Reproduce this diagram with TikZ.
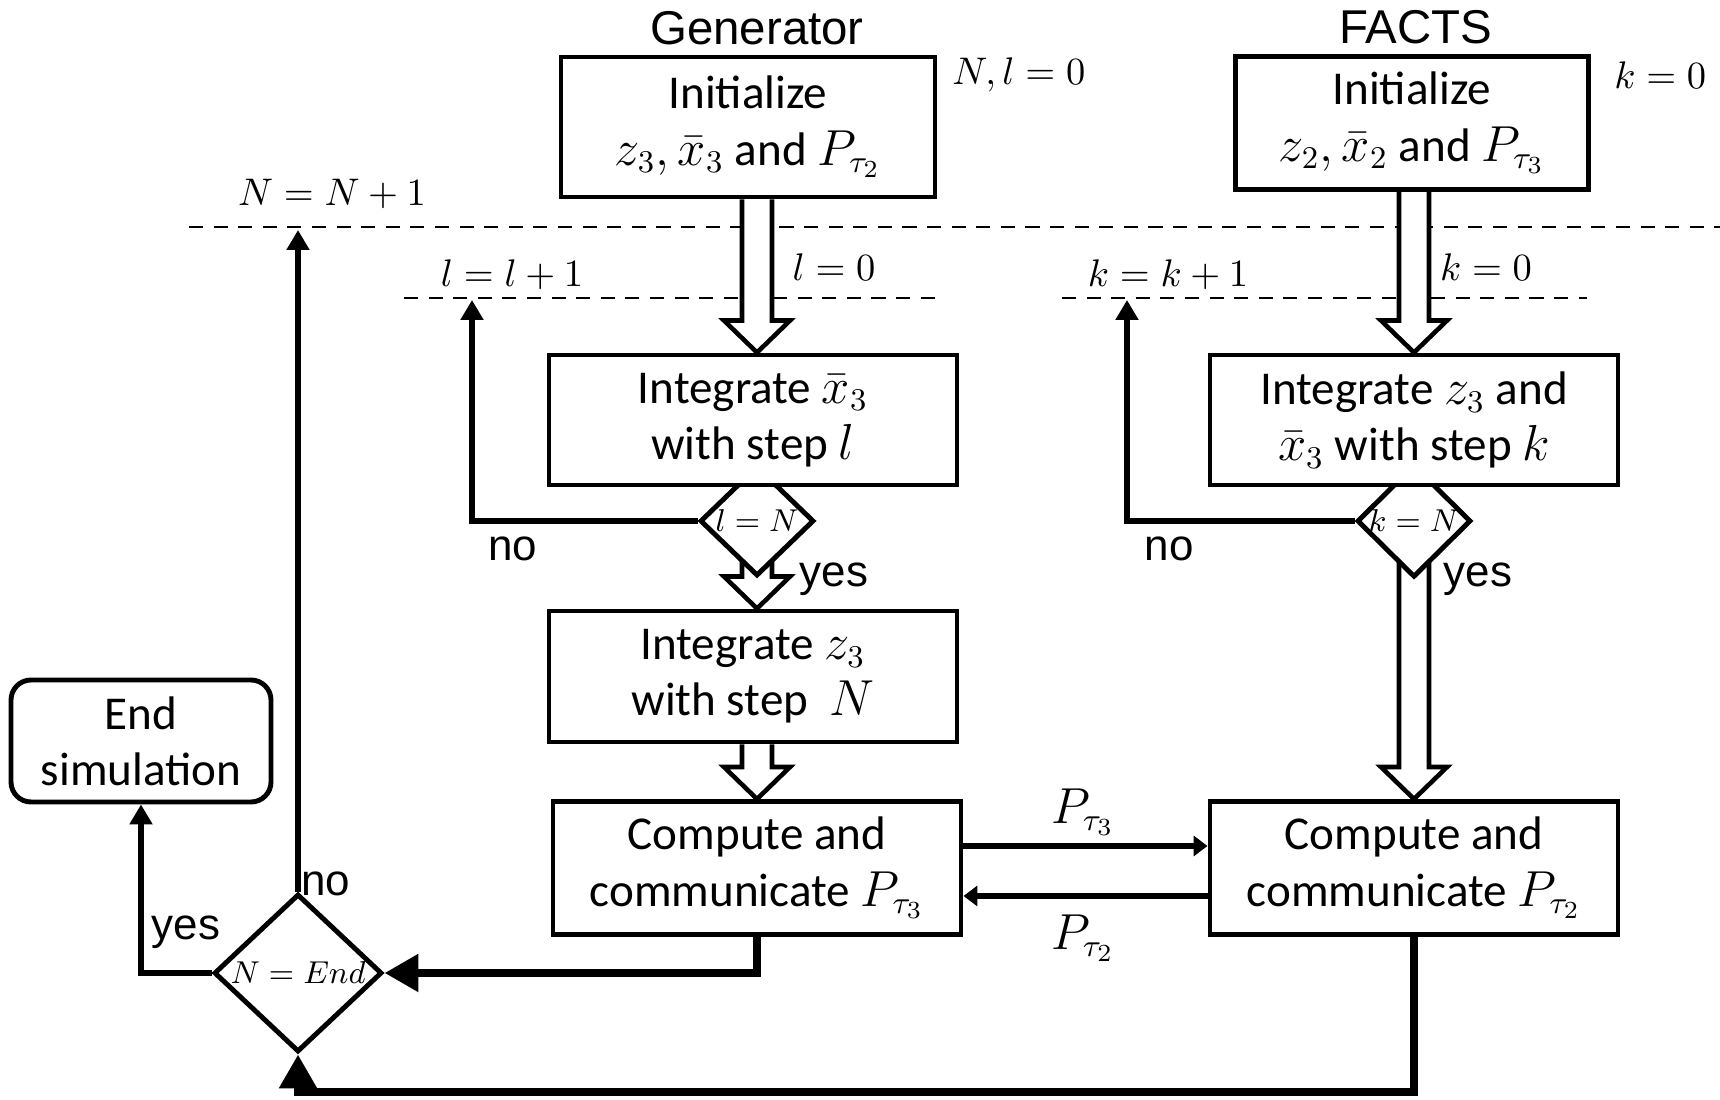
\documentclass[tikz,border=0pt]{standalone}
\usepackage{fontspec}
\setmainfont{Carlito}
\newfontfamily\arialfont{Liberation Sans}
\usetikzlibrary{arrows.meta,shapes.geometric,calc,backgrounds}

% hollow block arrow, straight down from #1 to the tip #2
\newcommand{\blockarrow}[2]{%
  \draw[hollowarr] let \p1=(#1), \p2=(#2) in
    (\x1-\shaftw,\y1) -- (\x1-\shaftw,\y2+\headl) -- (\x1-\headw,\y2+\headl)
    -- (\x1,\y2) -- (\x1+\headw,\y2+\headl) -- (\x1+\shaftw,\y2+\headl)
    -- (\x1+\shaftw,\y1);%
}

\begin{document}
\begin{tikzpicture}[line join=miter,
    box/.style={draw, fill=white, line width=1.4pt, align=center, inner sep=0pt,
      font=\fontsize{13.4}{16}\selectfont},
    test/.style={diamond, draw, fill=white, line width=1.4pt, inner sep=0pt,
      font=\fontsize{9}{10}\selectfont},
    hollowarr/.style={draw, fill=white, line width=1.3pt},
    loopline/.style={line width=1.6pt, -{Triangle[length=2mm,width=2.2mm]}},
    mainline/.style={line width=2.4pt, -{Triangle[length=3.4mm,width=3.6mm]}},
    msgline/.style={line width=1.7pt, -{Triangle[length=1.4mm,width=2mm]}},
    stepline/.style={line width=0.6pt, dash pattern=on 4pt off 3pt},
    sidetitle/.style={font=\arialfont\fontsize{13.5}{15}\selectfont},
    answer/.style={font=\arialfont\fontsize{12.5}{14}\selectfont},
    counter/.style={font=\fontsize{11}{13}\selectfont}]
  \def\shaftw{0.15cm}  % half shaft of the block arrows
  \def\headw{0.33cm}   % half head width
  \def\headl{0.32cm}   % head length
  \useasboundingbox (0,0) rectangle (17.2,11.0);

  % decisions (under the boxes)
  \node[test, minimum width=1.14cm, minimum height=1.10cm] (gentest) at (7.57,5.79) {$l=N$};
  \node[test, minimum width=1.14cm, minimum height=1.10cm] (factstest) at (14.14,5.79) {$k=N$};
  \node[test, minimum width=1.68cm, minimum height=1.58cm,
    font=\fontsize{9.5}{11}\selectfont] (endtest) at (2.98,1.27) {$N=End$};

  % generator side
  \node[box, minimum width=3.74cm, minimum height=1.40cm] (geninit) at (7.48,9.73)
    {Initialize\\$z_3,\bar{x}_3$ and $P_{\tau_2}$};
  \node[box, minimum width=4.08cm, minimum height=1.30cm] (genint) at (7.53,6.80)
    {Integrate $\bar{x}_3$\\with step $l$};
  \node[box, minimum width=4.08cm, minimum height=1.31cm] (genstep) at (7.53,4.235)
    {Integrate $z_3$\\with step \ $N$};
  \node[box, minimum width=4.08cm, minimum height=1.33cm] (gencomp) at (7.57,2.32)
    {Compute and\\communicate $P_{\tau_3}$};

  % FACTS side
  \node[box, minimum width=3.53cm, minimum height=1.33cm] (factsinit) at (14.12,9.77)
    {Initialize\\$z_2,\bar{x}_2$ and $P_{\tau_3}$};
  \node[box, minimum width=4.08cm, minimum height=1.30cm] (factsint) at (14.14,6.80)
    {Integrate $z_3$ and\\$\bar{x}_3$ with step $k$};
  \node[box, minimum width=4.08cm, minimum height=1.33cm] (factscomp) at (14.14,2.32)
    {Compute and\\communicate $P_{\tau_2}$};

  \node[box, rounded corners=0.2cm, minimum width=2.60cm, minimum height=1.22cm]
    (endsim) at (1.41,3.59) {End\\simulation};

  % labels
  \node[sidetitle] (gentitle) at (7.57,10.72) {Generator};
  \node[sidetitle] (factstitle) at (14.16,10.73) {FACTS};
  \node[counter, anchor=west] (geninitval) at (9.40,10.25) {$N, l = 0$};
  \node[counter, anchor=west] (factsinitval) at (16.02,10.25) {$k = 0$};
  \node[counter] (outercount) at (3.32,9.06) {$N = N + 1$};
  \node[counter] (genreset) at (8.34,8.33) {$l = 0$};
  \node[counter] (factsreset) at (14.86,8.33) {$k = 0$};
  \node[counter] (gencount) at (5.12,8.25) {$l = l + 1$};
  \node[counter] (factscount) at (11.68,8.25) {$k = k + 1$};
  \node[answer] (genno) at (5.13,5.51) {no};
  \node[answer] (genyes) at (8.34,5.21) {yes};
  \node[answer] (factsno) at (11.69,5.51) {no};
  \node[answer] (factsyes) at (14.78,5.21) {yes};
  \node[answer] (endno) at (3.26,2.16) {no};
  \node[answer] (endyes) at (1.86,1.68) {yes};
  \node[box, draw=none, fill=none] (sendlbl) at (10.83,2.88) {$P_{\tau_3}$};
  \node[box, draw=none, fill=none] (recvlbl) at (10.83,1.62) {$P_{\tau_2}$};

  \coordinate (genback) at (4.72,8.00);
  \coordinate (factsback) at (11.27,8.00);
  \coordinate (outerback) at (2.98,8.70);
  \coordinate (bottomrun) at (0,0.08);

  \begin{pgfonlayer}{background}
    % step levels
    \draw[stepline] (1.89,8.73) -- (17.2,8.73);
    \draw[stepline] (4.04,8.02) -- (9.40,8.02);
    \draw[stepline] (10.62,8.02) -- (15.87,8.02);
    % hollow flow arrows
    \blockarrow{gentest.north |- geninit.south}{gentest.north |- genint.north}
    \blockarrow{$(gentest.south)+(0,0.25)$}{gentest.south |- genstep.north}
    \blockarrow{gentest.south |- genstep.south}{gentest.south |- gencomp.north}
    \blockarrow{factstest.north |- factsinit.south}{factstest.north |- factsint.north}
    \blockarrow{$(factstest.south)+(0,0.25)$}{factstest.south |- factscomp.north}
  \end{pgfonlayer}

  % loops
  \draw[loopline] (gentest.west) -| (genback);
  \draw[loopline] (factstest.west) -| (factsback);
  \draw[loopline] (endtest.north) -- (outerback);
  \draw[loopline] (endtest.west) -| (endsim.south);
  \draw[mainline] (gencomp.south) |- (endtest.east);
  \draw[mainline] (factscomp.south) |- (endtest.south |- bottomrun) -- (endtest.south);

  % exchange
  \draw[msgline] ([yshift=2.2mm]gencomp.east) -- ([yshift=2.2mm]factscomp.west);
  \draw[msgline] ([yshift=-2.8mm]factscomp.west) -- ([yshift=-2.8mm]gencomp.east);
\end{tikzpicture}
\end{document}
